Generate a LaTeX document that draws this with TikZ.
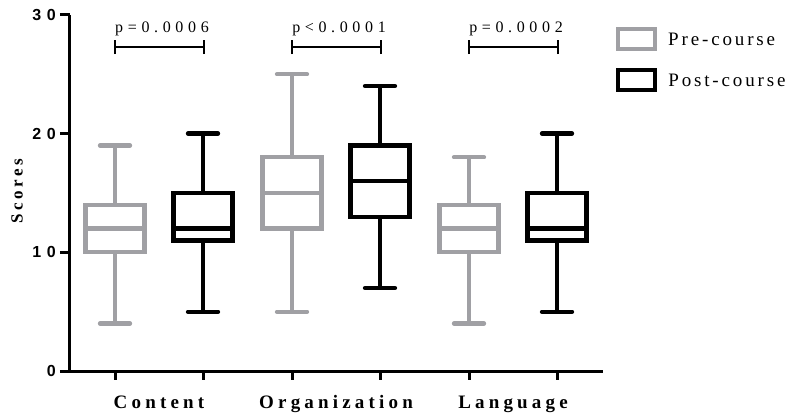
\documentclass[tikz,border=0pt]{standalone}
\usepackage{fontspec}
\setmainfont{Liberation Serif}
\newfontfamily\ticksfont{Liberation Sans}[LetterSpace=35]
\newfontfamily\pvalfont{Liberation Serif}[LetterSpace=29]
\newfontfamily\catfont{Liberation Serif}[LetterSpace=22]
\newfontfamily\legfont{Liberation Serif}[LetterSpace=15]
\usetikzlibrary{positioning}
\definecolor{pregray}{RGB}{160,160,164}
\tikzset{
  axisline/.style={line width=3pt,black},
  prebox/.style={line width=4.3pt,pregray},
  postbox/.style={line width=4.3pt,black},
  bracket/.style={line width=1.8pt},
  ticklabel/.style={font=\fontsize{16pt}{16pt}\selectfont\ticksfont\bfseries,inner sep=0pt},
  pvalue/.style={font=\fontsize{16pt}{16pt}\selectfont\pvalfont,inner sep=0pt,anchor=base},
  catlabel/.style={font=\fontsize{19pt}{19pt}\selectfont\catfont\bfseries,inner sep=0pt,anchor=base},
  legtext/.style={font=\fontsize{19pt}{19pt}\selectfont\legfont,inner sep=0pt,anchor=west}
}
\begin{document}
\begin{tikzpicture}[x=1pt,y=11.87pt]
\useasboundingbox (-70,-3.454) rectangle (716,31.256);
% axes
\draw[axisline] (0,30) -- (0,0) -- (533,0);
\foreach \v in {0,10,20,30} {
  \draw[axisline] (-10,\v) -- (0,\v);
  \node[ticklabel,anchor=east] (t\v) at (-14,\v) {\v};
}
\node[font=\fontsize{17pt}{17pt}\selectfont\catfont\bfseries,rotate=90,inner sep=0pt] (ylab) at (-53,15.15) {Scores};
% boxes: centre/min/q1/median/q3/max/style
\foreach \cx/\lo/\qa/\md/\qb/\hi/\st in {45/4/10/12/14/19/prebox,133/5/11/12/15/20/postbox,
  222/5/12/15/18/25/prebox,310/7/13/16/19/24/postbox,
  399/4/10/12/14/18/prebox,487/5/11/12/15/20/postbox} {
  \draw[\st] (\cx,\lo) -- (\cx,\qa) (\cx,\qb) -- (\cx,\hi);
  \draw[\st,line cap=round] (\cx-15,\lo) -- (\cx+15,\lo) (\cx-15,\hi) -- (\cx+15,\hi);
  \draw[\st,fill=white] (\cx-29.5,\qa) rectangle (\cx+29.5,\qb);
  \draw[\st] (\cx-29.5,\md) -- (\cx+29.5,\md);
}
% categories and p values
\foreach \a/\b/\cat/\p/\nm in {45/133/Content/{p=0.0006}/cont,222/310/Organization/{p<0.0001}/org,399/487/Language/{p=0.0002}/lang} {
  \draw[axisline] (\a,0) -- (\a,-0.76) (\b,0) -- (\b,-0.76);
  \node[catlabel] (\nm) at ({(\a+\b)/2},-3.12) {\cat};
  \draw[bracket] (\a,26.7) -- (\a,27.9) (\a,27.3) -- (\b+1,27.3) (\b+1,26.7) -- (\b+1,27.9);
  \node[pvalue] (p\nm) at ({(\a+\b)/2+3},28.5) {\p};
}
% legend
\node[draw=pregray,line width=4pt,minimum width=37pt,minimum height=20pt,inner sep=0pt] (legpre) at (566.5,27.97) {};
\node[draw=black,line width=4.3pt,minimum width=37pt,minimum height=20pt,inner sep=0pt] (legpost) at (566.5,24.52) {};
\node[legtext,right=11pt of legpre] (txtpre) {Pre-course};
\node[legtext,right=11pt of legpost] (txtpost) {Post-course};
\end{tikzpicture}
\end{document}
